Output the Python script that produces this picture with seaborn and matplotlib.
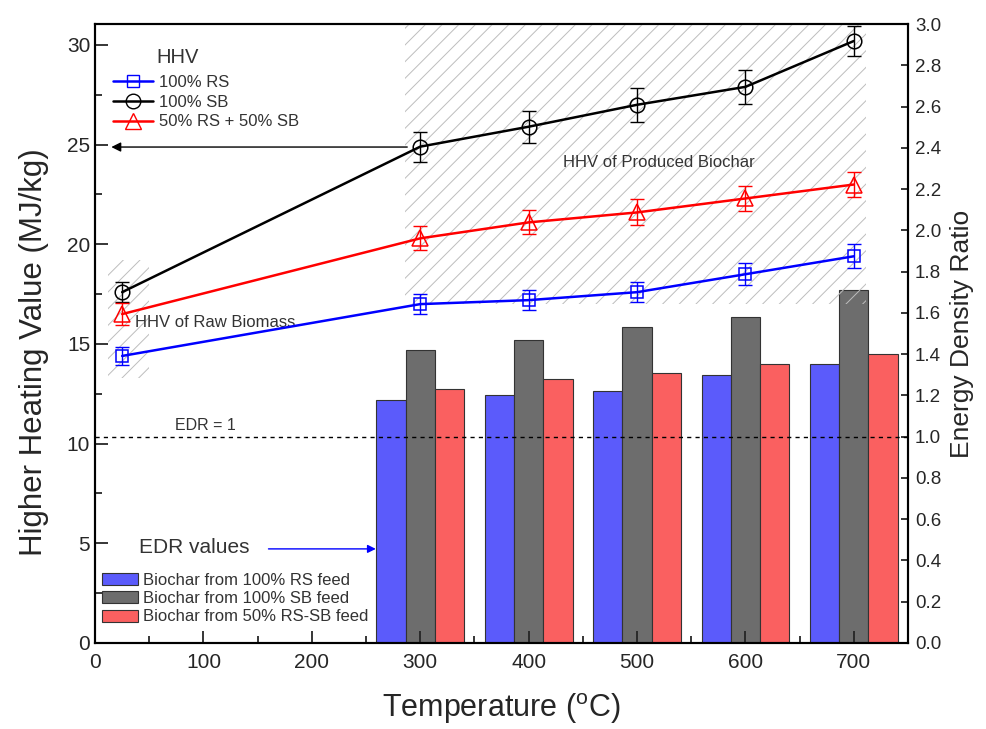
import numpy as np
import pandas as pd
import matplotlib
matplotlib.use("Agg")
import matplotlib.pyplot as plt
import seaborn as sns
from matplotlib.patches import Rectangle, Patch
from matplotlib.lines import Line2D
from matplotlib.ticker import MultipleLocator, FormatStrFormatter

# === Data ===
temps = [25, 300, 400, 500, 600, 700]
hhv_rs = [14.4, 17.0, 17.2, 17.6, 18.5, 19.4]
hhv_sb = [17.6, 24.9, 25.9, 27.0, 27.9, 30.2]
hhv_mix = [16.5, 20.3, 21.1, 21.6, 22.3, 23.0]
err_rs = [0.45, 0.5, 0.5, 0.5, 0.55, 0.6]
err_sb = [0.5, 0.75, 0.8, 0.85, 0.85, 0.75]
err_mix = [0.55, 0.6, 0.6, 0.65, 0.65, 0.65]

bar_temps = [300, 400, 500, 600, 700]
edr_rs = [1.18, 1.20, 1.22, 1.30, 1.35]
edr_sb = [1.42, 1.47, 1.53, 1.58, 1.71]
edr_mix = [1.23, 1.28, 1.31, 1.35, 1.40]

line_labels = ["100% RS", "100% SB", "50% RS + 50% SB"]
bar_labels = ["Biochar from 100% RS feed", "Biochar from 100% SB feed",
              "Biochar from 50% RS-SB feed"]

# === Style ===
sns.set_theme(style="ticks")
plt.rcParams["font.family"] = ["Liberation Sans", "DejaVu Sans"]
plt.rcParams["hatch.linewidth"] = 0.7

fig = plt.figure(figsize=(9.87, 7.29), dpi=100)
ax = fig.add_axes([0.0963, 0.118, 0.8237, 0.849])
ax2 = ax.twinx()

# === Bars (EDR, right axis) ===
bars = pd.DataFrame({
    "temp": bar_temps * 3,
    "edr": edr_rs + edr_sb + edr_mix,
    "feed": [bar_labels[0]] * 5 + [bar_labels[1]] * 5 + [bar_labels[2]] * 5,
})
bar_colors = ["#5b5bfb", "#6d6d6d", "#fa6060"]
sns.barplot(data=bars, x="temp", y="edr", hue="feed", native_scale=True,
            dodge=True, width=0.81, palette=bar_colors, edgecolor="#333333",
            linewidth=0.8, saturation=1, errorbar=None, legend=False, ax=ax2)

ax2.axhline(1.0, color="black", lw=1, ls=(0, (3, 3)))

# === HHV lines (left axis) ===
hhv = pd.DataFrame({"temp": temps * 3,
                    "hhv": hhv_rs + hhv_sb + hhv_mix,
                    "feed": [line_labels[0]] * 6 + [line_labels[1]] * 6 + [line_labels[2]] * 6})
line_colors = ["#0000ff", "black", "#ff0000"]
markers = ["s", "o", "^"]
msizes = [9, 10.5, 11]
errs = [err_rs, err_sb, err_mix]
handles = []
for lab, col, mk, ms, er in zip(line_labels, line_colors, markers, msizes, errs):
    sub = hhv[hhv["feed"] == lab]
    sns.lineplot(data=sub, x="temp", y="hhv", color=col, lw=1.8, ax=ax,
                 marker=mk, markersize=ms, markerfacecolor="none",
                 markeredgecolor=col, markeredgewidth=1.1, legend=False, zorder=4)
    ax.errorbar(sub["temp"], sub["hhv"], yerr=er, fmt="none", ecolor=col,
                elinewidth=1, capsize=5, capthick=1, zorder=4)
    handles.append(Line2D([], [], color=col, lw=1.8, marker=mk, markersize=ms,
                          markerfacecolor="none", markeredgecolor=col))

# hatched regions
ax.add_patch(Rectangle((286, 17.0), 425, 14.1, fill=False, hatch="//",
                       edgecolor="#bdbdbd", lw=0, zorder=1))
ax.add_patch(Rectangle((12, 13.3), 38, 5.9, fill=False, hatch="//",
                       edgecolor="#bdbdbd", lw=0, zorder=1))

# put HHV axis in front of bars
ax.set_zorder(ax2.get_zorder() + 1)
ax.patch.set_visible(False)

# === Annotations ===
ax.annotate("", xy=(15, 24.88), xytext=(288, 24.88),
            arrowprops=dict(arrowstyle="-|>", color="black", lw=1,
                            mutation_scale=14, shrinkA=0, shrinkB=0))
ax.annotate("", xy=(259, 4.72), xytext=(160, 4.72),
            arrowprops=dict(arrowstyle="-|>", color="#0000ff", lw=1,
                            mutation_scale=12, shrinkA=0, shrinkB=0))
ax.text(57, 29.35, "HHV", fontsize=14.5, color="#333333", va="center")
ax.text(432, 24.1, "HHV of Produced Biochar", fontsize=12, color="#333333", va="center")
ax.text(37, 16.1, "HHV of Raw Biomass", fontsize=12, color="#333333", va="center")
ax.text(74, 10.9, "EDR = 1", fontsize=11.5, color="#333333", va="center")
ax.text(41, 4.77, "EDR values", fontsize=15, color="#333333", va="center")

leg1 = ax.legend(handles, line_labels, loc="upper left", bbox_to_anchor=(0.022, 0.918),
                 frameon=False, fontsize=12, handlelength=2.4, handletextpad=0.35,
                 labelspacing=0.29, borderaxespad=0, borderpad=0, labelcolor="#333333")
ax.add_artist(leg1)
bar_handles = [Patch(facecolor=c, edgecolor="#333333", lw=0.8) for c in bar_colors]
ax.legend(bar_handles, bar_labels, loc="lower left", bbox_to_anchor=(0.009, 0.03),
          frameon=False, fontsize=12, handlelength=2.15, handleheight=0.72,
          handletextpad=0.3, labelspacing=0.2, borderaxespad=0, borderpad=0,
          labelcolor="#333333")

# === Axes ===
ax.set_xlim(0, 750)
ax.set_ylim(0, 31.05)
ax2.set_ylim(0, 3.0)
ax.xaxis.set_major_locator(MultipleLocator(100))
ax.xaxis.set_minor_locator(MultipleLocator(50))
ax.yaxis.set_major_locator(MultipleLocator(5))
ax.yaxis.set_minor_locator(MultipleLocator(2.5))
ax2.yaxis.set_major_locator(MultipleLocator(0.2))
ax2.yaxis.set_major_formatter(FormatStrFormatter("%.1f"))

ax.tick_params(axis="both", which="major", direction="in", length=9, width=1.3,
               labelsize=15, top=False, right=False)
ax.tick_params(axis="x", which="major", pad=7)
ax.tick_params(axis="both", which="minor", direction="in", length=5, width=1.3,
               top=False, right=False)
ax2.tick_params(axis="y", which="major", direction="in", length=5, width=1.3,
                labelsize=13.5, pad=5)

for a in (ax, ax2):
    for s in a.spines.values():
        s.set_linewidth(1.5)
        s.set_color("black")

ax.set_xlabel("Temperature ($\\mathregular{^o}$C)", fontsize=22, labelpad=14)
ax.set_ylabel("Higher Heating Value (MJ/kg)", fontsize=22.5)
ax.yaxis.set_label_coords(-0.057, 0.47)
ax2.set_ylabel("Energy Density Ratio", fontsize=19, labelpad=6)

fig.savefig("out.png", dpi=100)
